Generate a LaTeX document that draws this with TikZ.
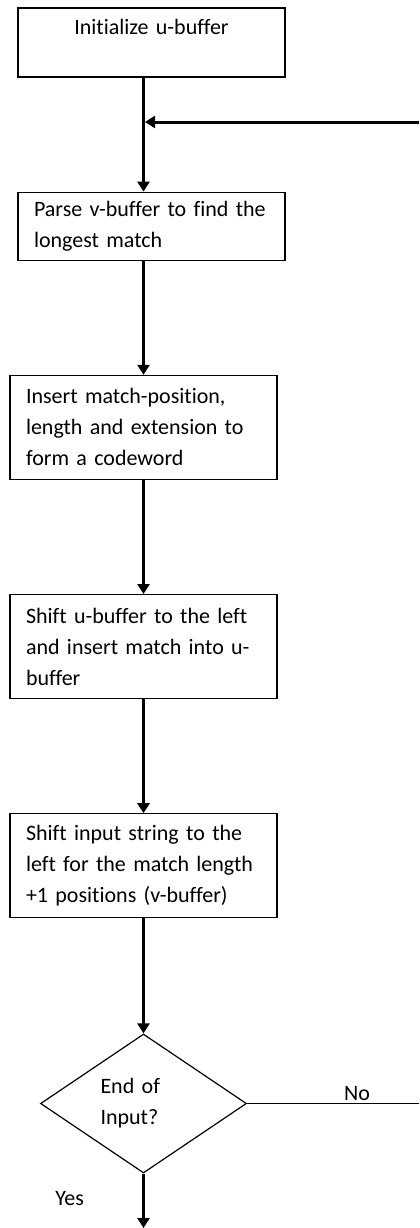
\documentclass[tikz,border=0pt]{standalone}
\usepackage{fontspec}
\setmainfont{Carlito}[Ligatures=NoCommon]
\usetikzlibrary{positioning, shapes.geometric, arrows.meta}

\begin{document}
\begin{tikzpicture}[
  x=0.5pt, y=-0.5pt,
  node distance=57pt,
  every node/.style={font=\fontsize{11pt}{15.5pt}\selectfont},
  procbox/.style={draw, line width=0.6pt, rectangle, text width=117.5pt, inner xsep=8pt, align=left, minimum height=52pt},
  decision/.style={draw, line width=0.6pt, diamond, text width=43pt, align=left, minimum width=103pt, minimum height=69.5pt, inner sep=0pt},
  arrow/.style={-{Triangle[length=5pt, width=6pt]}, line width=1.5pt}
]
\useasboundingbox (0,0) rectangle (419,1228);
\node[procbox, align=center, minimum height=34.5pt] (init) at (151.5,42.5) {Initialize u-buffer\\ \mbox{}};
\node[procbox, minimum height=34pt, below=of init] (parse) {Parse v-buffer to find the\\longest match};
\node[procbox, below=of parse, xshift=-4pt] (insert) {Insert match-position,\\length and extension to\\form a codeword};
\node[procbox, below=of insert] (shift) {Shift u-buffer to the left\\and insert match into u-\\buffer};
\node[procbox, below=of shift] (input) {Shift input string to the\\left for the match length\\+1 positions (v-buffer)};
\node[decision, below=57.5pt of input] (check) {End of\\Input?};
\coordinate (rim) at (419,122);
\coordinate (stop) at (143.5,1228);
\draw[arrow] (init.south -| insert) -- (parse.north -| insert);
\draw[arrow] (rim) -- ([xshift=0.75pt]rim -| insert);
\draw[arrow] (parse.south -| insert) -- (insert.north);
\draw[arrow] (insert) -- (shift);
\draw[arrow] (shift) -- (input);
\draw[arrow] (input) -- (check);
\draw[arrow] (check) -- node[pos=0.46, left=29pt, inner sep=0pt] {Yes} (stop);
\draw[line width=0.6pt] (check.east) -- node[pos=0.64, above, inner sep=1pt] {No} (check.east -| rim);
\end{tikzpicture}
\end{document}
